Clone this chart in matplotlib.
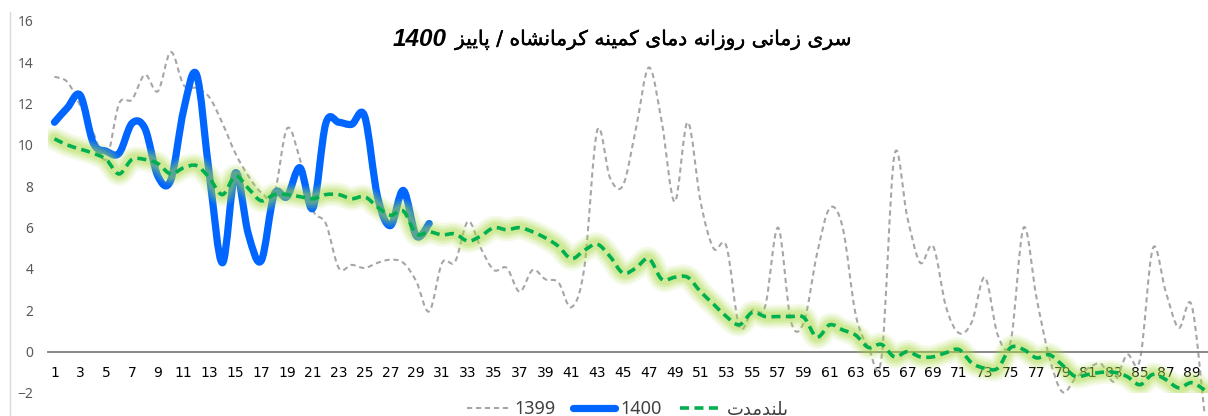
import re
import numpy as np
import matplotlib
matplotlib.use("Agg")
import matplotlib.pyplot as plt
import matplotlib.patheffects as pe
from matplotlib.path import Path
from matplotlib.patches import PathPatch
from matplotlib.lines import Line2D

# ---- data ----
days = np.arange(1, 91)

t1399 = [13.3, 13.05, 11.9, 10.6, 9.3, 12.0, 12.2, 13.4, 12.6, 14.5,
         12.9, 12.75, 12.3, 11.05, 9.6, 8.5, 7.7, 7.6, 10.8, 9.3,
         6.85, 6.2, 4.05, 4.2, 4.05, 4.3, 4.45, 4.3, 3.4, 1.95,
         4.3, 4.35, 6.3, 5.0, 3.95, 4.05, 2.9, 3.95, 3.5, 3.35,
         2.15, 4.05, 10.7, 8.4, 8.05, 10.8, 13.75, 11.1, 7.25, 11.1,
         7.25, 5.0, 5.1, 1.2, 2.0, 2.2, 6.0, 1.45, 1.45, 4.7,
         6.95, 6.0, 1.8, 0.2, -0.3, 9.5, 6.5, 4.3, 5.1, 2.15,
         0.9, 1.45, 3.6, 0.8, 0.5, 6.0, 2.6, -0.3, -1.95, -1.3,
         -0.8, -0.6, -1.45, -0.15, -0.4, 5.0, 2.9, 1.15, 2.25, -3.0]

t1400 = [11.1, 11.8, 12.4, 10.1, 9.7, 9.6, 11.05, 10.8, 8.5, 8.3,
         11.7, 13.4, 8.5, 4.3, 8.65, 5.7, 4.4, 7.6, 7.5, 8.9,
         6.95, 11.05, 11.1, 11.0, 11.4, 7.5, 6.1, 7.8, 5.6, 6.2]

t_long = [10.3, 10.0, 9.8, 9.6, 9.3, 8.6, 9.3, 9.3, 9.1, 8.6,
          8.9, 9.0, 8.4, 7.6, 8.5, 7.9, 7.3, 7.6, 7.6, 7.5,
          7.4, 7.6, 7.6, 7.4, 7.5, 7.0, 6.6, 6.8, 5.7, 5.8,
          5.65, 5.7, 5.35, 5.6, 6.0, 5.9, 6.0, 5.8, 5.5, 5.1,
          4.5, 4.9, 5.2, 4.6, 3.8, 4.05, 4.5, 3.5, 3.6, 3.6,
          2.9, 2.3, 1.7, 1.3, 1.9, 1.7, 1.7, 1.7, 1.65, 0.7,
          1.3, 1.05, 0.8, 0.2, 0.35, -0.25, 0.0, -0.25, -0.25, -0.05,
          0.1, -0.55, -0.8, -0.8, 0.2, 0.1, -0.3, -0.15, -0.65, -1.2,
          -1.1, -1.0, -1.0, -1.2, -1.6, -1.1, -1.35, -1.75, -1.5, -1.85]

title_fa = "سری زمانی روزانه دمای کمینه کرمانشاه / پاییز"
title_year = "1400"
series_names = ["1399", "1400", "بلندمدت"]

# ---- minimal Persian shaping (matplotlib does no bidi / joining) ----
FORMS = {
    "ا": ("\uFE8D", "\uFE8E"), "د": ("\uFEA9", "\uFEAA"),
    "ر": ("\uFEAD", "\uFEAE"), "ز": ("\uFEAF", "\uFEB0"),
    "و": ("\uFEED", "\uFEEE"),
    "ب": ("\uFE8F", "\uFE90", "\uFE91", "\uFE92"),
    "پ": ("\uFB56", "\uFB57", "\uFB58", "\uFB59"),
    "ت": ("\uFE95", "\uFE96", "\uFE97", "\uFE98"),
    "س": ("\uFEB1", "\uFEB2", "\uFEB3", "\uFEB4"),
    "ش": ("\uFEB5", "\uFEB6", "\uFEB7", "\uFEB8"),
    "ک": ("\uFB8E", "\uFB8F", "\uFB90", "\uFB91"),
    "ل": ("\uFEDD", "\uFEDE", "\uFEDF", "\uFEE0"),
    "م": ("\uFEE1", "\uFEE2", "\uFEE3", "\uFEE4"),
    "ن": ("\uFEE5", "\uFEE6", "\uFEE7", "\uFEE8"),
    "ه": ("\uFEE9", "\uFEEA", "\uFEEB", "\uFEEC"),
    "ی": ("\uFBFC", "\uFBFD", "\uFBFE", "\uFBFF"),
}


def fa(text):
    out = []
    for i, ch in enumerate(text):
        if ch not in FORMS:
            out.append(ch)
            continue
        f = FORMS[ch]
        prev = text[i - 1] if i > 0 else ""
        nxt = text[i + 1] if i + 1 < len(text) else ""
        jp = prev in FORMS and len(FORMS[prev]) == 4
        jn = nxt in FORMS and len(f) == 4
        if jp and jn:
            out.append(f[3])
        elif jp:
            out.append(f[1])
        elif jn:
            out.append(f[2])
        else:
            out.append(f[0])
    runs = re.findall(r"[0-9]+|[^0-9]", "".join(out))
    return "".join(runs[::-1])


def smooth(x, y):
    # excel style smoothed line as cubic bezier path
    p = np.column_stack([x, y]).astype(float)
    n = len(p)
    verts = [p[0]]
    codes = [Path.MOVETO]
    for i in range(n - 1):
        p0 = p[i - 1] if i > 0 else p[i]
        p3 = p[i + 2] if i + 2 < n else p[i + 1]
        verts += [p[i] + (p[i + 1] - p0) / 6, p[i + 1] - (p3 - p[i]) / 6, p[i + 1]]
        codes += [Path.CURVE4] * 3
    return Path(verts, codes)


W, H = 1208, 416
fig = plt.figure(figsize=(W / 100, H / 100), dpi=100)
ax = fig.add_axes([48 / W, 1 - 393 / H, 1163 / W, 372 / H])

gray = "#a6a6a6"
blue = "#0066ff"
green = "#00b050"

ax.add_patch(PathPatch(smooth(days, t1399), fill=False, ec=gray, lw=1.5,
                       ls=(0, (2.5, 1.8)), clip_on=False, zorder=2))
ax.add_patch(PathPatch(smooth(days[:len(t1400)], t1400), fill=False, ec=blue, lw=5.2,
                       capstyle="round", joinstyle="round", zorder=3))
pl = smooth(days, t_long)
# soft glow under the long-term line
for w, a in [(17, 0.12), (13.5, 0.16), (10, 0.2), (7, 0.22)]:
    ax.add_patch(PathPatch(pl, fill=False, ec="#a9da40", lw=w, alpha=a,
                           capstyle="round", joinstyle="round", zorder=4))
ax.add_patch(PathPatch(pl, fill=False, ec=green, lw=2.6, ls=(0, (2.5, 1.5)),
                       zorder=5))

ax.set_xlim(0.5, 90.5)
ax.set_ylim(-2, 16)
ax.set_yticks(np.arange(-2, 17, 2))
ax.set_xticks(days[::2])
ax.set_xticklabels([str(d) for d in days[::2]], fontfamily="Noto Sans",
                   fontweight="bold", fontsize=9.5, color="#404040")
for lab in ax.get_yticklabels():
    lab.set_fontfamily("Noto Sans")
ax.tick_params(axis="y", length=0, pad=10.5, labelsize=10, labelcolor="#595959")
ax.tick_params(axis="x", length=0, pad=10)
for s in ["left", "right", "top"]:
    ax.spines[s].set_visible(False)
ax.spines["bottom"].set_position(("data", 0))
ax.spines["bottom"].set_color("#7f7f7f")
ax.spines["bottom"].set_linewidth(1.3)

# title: persian part + bold italic year
fig.text(455 / W, 1 - 40 / H, fa(title_fa), ha="left", va="center",
         fontsize=14.6, family="DejaVu Sans", color="black",
         path_effects=[pe.withStroke(linewidth=0.3, foreground="black")])
fig.text(447 / W, 1 - 40 / H, title_year, ha="right", va="center",
         fontsize=17.5, family="Liberation Sans", fontweight="bold",
         fontstyle="italic", color="black")

# faint chart-area border on the left
fig.add_artist(Line2D([10 / W, 10 / W], [0, 1 - 12 / H], transform=fig.transFigure,
                      color="#d9d9d9", lw=1))

handles = [
    Line2D([], [], color=gray, lw=1.5, ls=(0, (2.5, 1.8))),
    Line2D([], [], color=blue, lw=5.2, solid_capstyle="round"),
    Line2D([], [], color=green, lw=2.6, ls=(0, (2.5, 1.5))),
]
fig.legend(handles, [series_names[0], series_names[1], fa(series_names[2])],
           loc="center", bbox_to_anchor=(628 / W, 1 - 409 / H), ncol=3,
           frameon=False, handlelength=2.3, handletextpad=0.3, columnspacing=1.0,
           prop={"family": ["Noto Sans", "DejaVu Sans"], "size": 13},
           labelcolor="#404040")

fig.savefig("out.png", dpi=100)
